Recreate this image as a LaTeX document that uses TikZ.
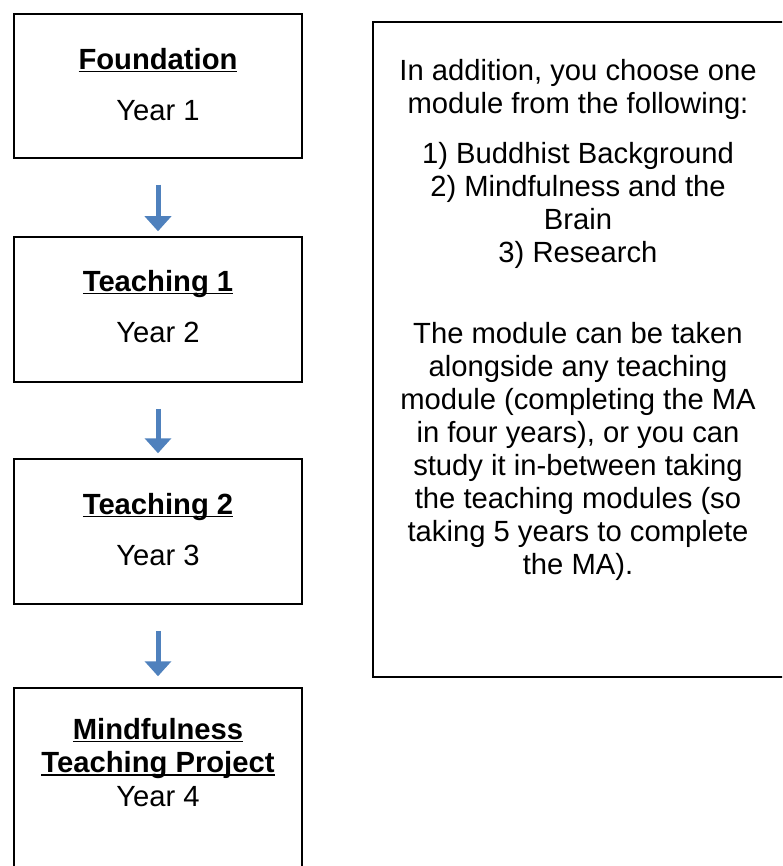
\documentclass[tikz,border=0pt]{standalone}
\usepackage{fontspec}
\setmainfont{Liberation Sans}
\usetikzlibrary{arrows.meta}

\definecolor{arrowblue}{RGB}{79, 129, 189}

\newcommand{\boxfont}{\fontsize{14.6pt}{16.75pt}\selectfont}
\newcommand{\ulhead}[1]{\setbox0\hbox{\bfseries #1}\rlap{\rule[-1.3pt]{\wd0}{0.7pt}}\box0}
\newcommand{\topstrut}{\rule{0pt}{11pt}}

\tikzset{
	yearbox/.style = {draw, line width = 0.75pt, minimum width = 144pt, inner sep = 0pt},
	boxtext/.style = {align = center, anchor = north, inner sep = 0pt, font = \boxfont},
	flowarrow/.style = {->, arrowblue, line width = 2.5pt, shorten <= 13pt, shorten >= 2.5pt}
}

\begin{document}
\begin{tikzpicture}[x = 0.5pt, y = -0.5pt, > = {Triangle[width = 13pt, length = 7.5pt]}]

	\useasboundingbox (0, 0) rectangle (782, 866);
	\clip (0, 0) rectangle (782, 866);

	% Boxes

	\node [yearbox, minimum height = 72pt] (found) at (158, 86) {};
	\node [yearbox, minimum height = 72.5pt] (teachone) at (158, 309.5) {};
	\node [yearbox, minimum height = 72.5pt] (teachtwo) at (158, 531.5) {};
	\node [yearbox, minimum height = 106pt] (project) at (158, 794) {};

	\node [yearbox, minimum width = 205.5pt, minimum height = 327.5pt] (option) at (578.5, 349.5) {};

	% Texts

	\node [boxtext] (foundtext) at (158, 47) {\topstrut\ulhead{Foundation}\\[9pt]Year 1};
	\node [boxtext] (teachonetext) at (158, 269) {\topstrut\ulhead{Teaching 1}\\[9pt]Year 2};
	\node [boxtext] (teachtwotext) at (158, 492) {\topstrut\ulhead{Teaching 2}\\[9pt]Year 3};
	\node [boxtext] (projecttext) at (158, 717) {\topstrut\ulhead{Mindfulness}\\\ulhead{Teaching Project}\\Year 4};

	\node [boxtext, font = \fontsize{14.6pt}{16.5pt}\selectfont] (optiontext) at (578, 58) {\topstrut In addition, you choose one\\
		module from the following:\\[8.5pt]
		1) Buddhist Background\\
		2) Mindfulness and the\\
		Brain\\
		3) Research\\[24pt]
		The module can be taken\\
		alongside any teaching\\
		module (completing the MA\\
		in four years), or you can\\
		study it in-between taking\\
		the teaching modules (so\\
		taking 5 years to complete\\
		the MA).};

	% Arrows

	\draw [flowarrow] (found) -- (teachone);
	\draw [flowarrow] (teachone) -- (teachtwo);
	\draw [flowarrow, shorten >= 5.5pt] (teachtwo) -- (project);

\end{tikzpicture}
\end{document}
